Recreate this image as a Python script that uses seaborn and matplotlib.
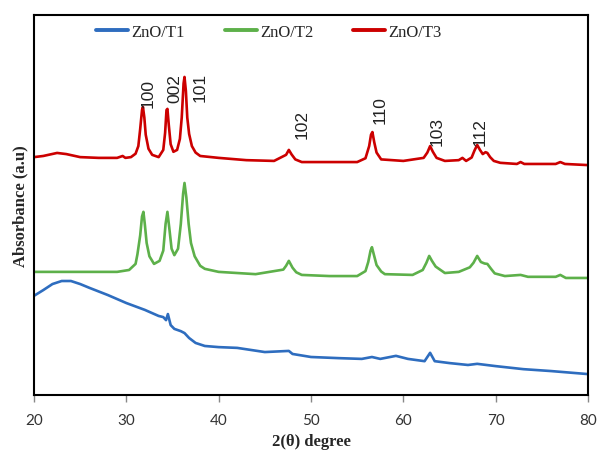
import matplotlib
matplotlib.use("Agg")
import matplotlib.pyplot as plt
import seaborn as sns
import pandas as pd

# ---- data ----
t3_x = [20, 21, 22.5, 23.5, 25, 27, 29, 29.6, 29.9, 30.5, 31.0, 31.3, 31.5, 31.7, 31.8, 31.95, 32.1, 32.4, 32.8,
        33.5, 34.0, 34.2, 34.35, 34.45, 34.6, 34.8, 35.1, 35.5, 35.8, 36.0, 36.2, 36.3, 36.45, 36.6, 36.8,
        37.1, 37.5, 38, 40, 43, 46, 47.3, 47.6, 47.9, 48.3, 49, 52, 55, 55.9, 56.3, 56.5, 56.65, 56.85,
        57.1, 57.6, 60, 62.2, 62.6, 62.9, 63.2, 63.6, 64.5, 66.0, 66.4, 66.8, 67.4, 67.7, 68.0, 68.3,
        68.6, 68.9, 69.1, 69.4, 69.8, 70.5, 72.3, 72.7, 73.1, 76.5, 77.0, 77.5, 80]
t3_y = [62.6, 62.9, 63.7, 63.4, 62.6, 62.4, 62.4, 62.9, 62.4, 62.6, 63.5, 65.5, 70.0, 75.0, 75.8, 73.0, 68.5, 64.8, 63.2,
        62.6, 64.5, 69.0, 75.0, 75.3, 71.0, 66.0, 64.0, 64.5, 67.4, 73.0, 82.0, 83.7, 80.0, 73.0, 68.7,
        65.5, 63.8, 62.9, 62.4, 61.8, 61.6, 63.2, 64.5, 63.3, 62.0, 61.3, 61.3, 61.3, 62.3, 65.5, 68.5, 69.2, 66.5,
        63.8, 62.0, 61.6, 62.4, 63.8, 65.5, 64.0, 62.4, 61.6, 61.8, 62.4, 61.6, 62.5, 64.3, 65.8, 64.5,
        63.4, 63.9, 63.7, 62.6, 61.6, 61.1, 60.8, 61.3, 60.8, 60.8, 61.3, 60.8, 60.5]

t2_x = [20, 25, 29, 30.3, 31.0, 31.2, 31.5, 31.7, 31.85, 32.0, 32.2, 32.5, 33.0, 33.6, 34.0, 34.25, 34.45, 34.65,
        34.9, 35.2, 35.6, 35.9, 36.15, 36.3, 36.5, 36.75, 37.0, 37.4, 38.0, 38.5, 40, 44, 47.0, 47.3, 47.6,
        48.0, 48.4, 49.0, 52, 55, 55.9, 56.2, 56.45, 56.6, 56.8, 57.1, 57.6, 58, 61, 62.1, 62.5, 62.8,
        63.1, 63.5, 64.5, 66.0, 66.5, 67.2, 67.6, 68.0, 68.4, 68.8, 69.1, 69.5, 69.9, 71, 72.7, 73.5,
        76.5, 77.0, 77.6, 80]
t2_y = [32.4, 32.4, 32.4, 32.9, 34.5, 37.0, 42.0, 47.0, 48.2, 45.0, 40.0, 36.5, 34.5, 35.3, 38.0, 45.0, 48.2, 44.0,
        38.5, 36.8, 38.5, 45.0, 53.0, 55.8, 52.0, 45.0, 40.0, 36.5, 34.0, 33.2, 32.4, 31.8, 33.0, 34.0, 35.3,
        33.5, 32.3, 31.6, 31.3, 31.3, 32.6, 35.0, 38.0, 38.9, 37.0, 34.2, 32.5, 31.8, 31.6, 32.9, 34.8, 36.6,
        35.3, 33.8, 32.1, 32.4, 32.9, 33.6, 34.8, 36.6, 35.0, 34.6, 34.5, 33.2, 32.0, 31.3, 31.6, 31.1,
        31.1, 31.6, 30.8, 30.8]

t1_x = [20, 21, 22, 23, 24, 25, 26, 28, 30, 32, 33.5, 34.0, 34.3, 34.5, 34.8, 35.2, 35.9, 36.3, 36.8, 37.5,
        38.5, 40, 42, 45, 47.6, 48, 50, 53, 55.5, 56.6, 57.5, 59.2, 60.5, 62.3, 62.9, 63.4, 65, 67, 68,
        70, 73, 76, 80]
t1_y = [26.1, 27.6, 29.2, 30.0, 30.0, 29.2, 28.2, 26.3, 24.2, 22.4, 20.8, 20.5, 19.7, 21.3, 18.4, 17.4, 16.8, 16.3, 15.0, 13.7,
        12.9, 12.6, 12.4, 11.3, 11.6, 10.8, 10.0, 9.7, 9.5, 10.0, 9.5, 10.3, 9.5, 8.9, 11.1, 8.9, 8.4, 7.9, 8.2,
        7.6, 6.8, 6.3, 5.5]

series_names = ["ZnO/T1", "ZnO/T2", "ZnO/T3"]
series_colors = ["#2E6DBF", "#5DB04A", "#CC0000"]

peak_labels = ["100", "002", "101", "102", "110", "103", "112"]
peak_label_x = [32.35, 35.3, 38.0, 49.0, 57.5, 63.7, 68.3]
peak_label_y = [75.8, 77.1, 77.4, 67.6, 71.6, 65.8, 65.8]

x_ticks = [20, 30, 40, 50, 60, 70, 80]

# ---- build long table ----
frames = []
for name, xs, ys in zip(series_names, [t1_x, t2_x, t3_x], [t1_y, t2_y, t3_y]):
    frames.append(pd.DataFrame({"theta": xs, "abs": ys, "sample": name}))
df = pd.concat(frames, ignore_index=True)

sns.set_style("white")
fig = plt.figure(figsize=(5.98, 4.60), dpi=100)
ax = fig.add_axes([34 / 598, 64 / 460, 554 / 598, 380 / 460])

sns.lineplot(data=df, x="theta", y="abs", hue="sample", hue_order=series_names,
             palette=series_colors, linewidth=1.9, sort=False, estimator=None, ax=ax)
for ln in ax.get_lines():
    ln.set_solid_joinstyle("round")

ax.set_xlim(20, 80)
ax.set_ylim(0, 100)
ax.set_xticks(x_ticks)
ax.set_xticklabels([str(v) for v in x_ticks], fontsize=11, color="#333333", family="Lato")
ax.set_yticks([])
ax.tick_params(axis="x", direction="out", length=5, width=1, color="#888888", bottom=True, pad=8)

for s in ax.spines.values():
    s.set_color("black")
    s.set_linewidth(1.5)

for lab, lx, ly in zip(peak_labels, peak_label_x, peak_label_y):
    ax.text(lx, ly, lab, rotation=90, ha="center", va="bottom", fontsize=12.5,
            family="Liberation Sans", color="#222222")

ax.set_xlabel("2(θ) degree", fontsize=12, fontweight="bold", family="Liberation Serif", labelpad=4)
ax.set_ylabel("Absorbance (a.u)", fontsize=12, fontweight="bold", family="Liberation Serif", labelpad=4)

leg = ax.legend(loc="upper center", bbox_to_anchor=(0.424, 1.015), ncol=3, frameon=False,
                prop={"family": "Liberation Serif", "size": 12}, handlelength=1.9,
                columnspacing=2.4, handletextpad=0.2)
for h in leg.get_lines():
    h.set_linewidth(2.8)

fig.savefig("out.png", dpi=100)
